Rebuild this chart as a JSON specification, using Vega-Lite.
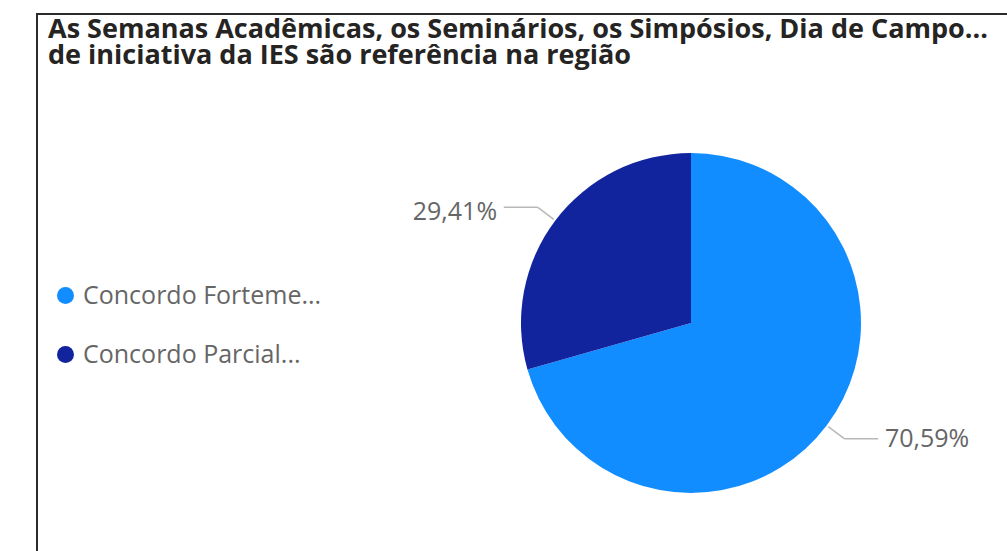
{
  "$schema": "https://vega.github.io/schema/vega-lite/v6.json",
  "autosize": "none",
  "width": 1308,
  "height": 618,
  "padding": {"left": 37, "top": 14, "right": -338, "bottom": -81},
  "background": "white",
  "view": {"stroke": "#2b2b2b", "strokeWidth": 2},
  "config": {
    "view": {"stroke": "#2b2b2b", "strokeWidth": 2},
    "locale": {"number": {"decimal": ",", "thousands": ".", "grouping": [3], "currency": ["R$", ""]}},
    "font": "Open Sans"
  },
  "title": {
    "text": ["As Semanas Acadêmicas, os Seminários, os Simpósios, Dia de Campo...", "de iniciativa da IES são referência na região"],
    "anchor": "start",
    "frame": "group",
    "orient": "top",
    "offset": -56,
    "dx": 11,
    "font": "Open Sans",
    "fontSize": 27,
    "fontWeight": "bold",
    "color": "#252423",
    "lineHeight": 26
  },
  "data": {
    "values": [
      {"answer": "Concordo Fortemente", "share": 0.7059},
      {"answer": "Concordo Parcialmente", "share": 0.2941}
    ]
  },
  "layer": [
    {
      "mark": {"type": "arc", "outerRadius": 170},
      "encoding": {
        "theta": {"field": "share", "type": "quantitative", "stack": true},
        "color": {
          "field": "answer",
          "type": "nominal",
          "scale": {"domain": ["Concordo Fortemente", "Concordo Parcialmente"], "range": ["#118DFF", "#12239E"]},
          "legend": {
            "title": null,
            "orient": "none",
            "legendX": 16,
            "legendY": 269,
            "symbolType": "circle",
            "symbolSize": 289,
            "symbolStrokeWidth": 0,
            "labelFont": "Open Sans",
            "labelFontSize": 25,
            "labelColor": "#666666",
            "labelOffset": 5,
            "rowPadding": 33,
            "labelExpr": "substring(datum.label, 0, 16) + '...'",
            "labelLimit": 400
          }
        },
        "order": {"field": "answer"}
      }
    },
    {
      "mark": {
        "type": "text",
        "radius": 243,
        "font": "Open Sans",
        "fontSize": 25,
        "fill": "#666666",
        "align": {"expr": "datum.answer == 'Concordo Parcialmente' ? 'right' : 'left'"},
        "dy": {"expr": "datum.answer == 'Concordo Parcialmente' ? 35 : -30"}
      },
      "encoding": {
        "theta": {"field": "share", "type": "quantitative", "stack": true},
        "order": {"field": "answer"},
        "detail": {"field": "answer"},
        "text": {"field": "share", "type": "quantitative", "format": ".2%"}
      }
    },
    {
      "transform": [
        {"window": [{"op": "sum", "field": "share", "as": "cum"}], "sort": [{"field": "answer"}], "frame": [null, 0]},
        {"calculate": "2 * PI * (datum.cum - datum.share / 2)", "as": "a"},
        {"calculate": "172 * sin(datum.a)", "as": "x0"},
        {"calculate": "172 * cos(datum.a)", "as": "y0"},
        {"calculate": "192 * sin(datum.a)", "as": "x1"},
        {"calculate": "192 * cos(datum.a)", "as": "y1"}
      ],
      "mark": {"type": "rule", "color": "#b8b8b8", "strokeWidth": 1.5},
      "encoding": {
        "x": {"field": "x0", "type": "quantitative", "scale": {"domain": [-654, 654], "nice": false, "zero": false}, "axis": null},
        "y": {"field": "y0", "type": "quantitative", "scale": {"domain": [-309, 309], "nice": false, "zero": false}, "axis": null},
        "x2": {"field": "x1"},
        "y2": {"field": "y1"}
      }
    },
    {
      "transform": [
        {"window": [{"op": "sum", "field": "share", "as": "cum"}], "sort": [{"field": "answer"}], "frame": [null, 0]},
        {"calculate": "2 * PI * (datum.cum - datum.share / 2)", "as": "a"},
        {"calculate": "192 * sin(datum.a)", "as": "x1"},
        {"calculate": "192 * cos(datum.a)", "as": "y1"},
        {"calculate": "datum.x1 + (datum.x1 > 0 ? 34 : -34)", "as": "x2"}
      ],
      "mark": {"type": "rule", "color": "#b8b8b8", "strokeWidth": 1.5},
      "encoding": {
        "x": {"field": "x1", "type": "quantitative", "scale": {"domain": [-654, 654], "nice": false, "zero": false}, "axis": null},
        "y": {"field": "y1", "type": "quantitative", "scale": {"domain": [-309, 309], "nice": false, "zero": false}, "axis": null},
        "x2": {"field": "x2"}
      }
    }
  ]
}
